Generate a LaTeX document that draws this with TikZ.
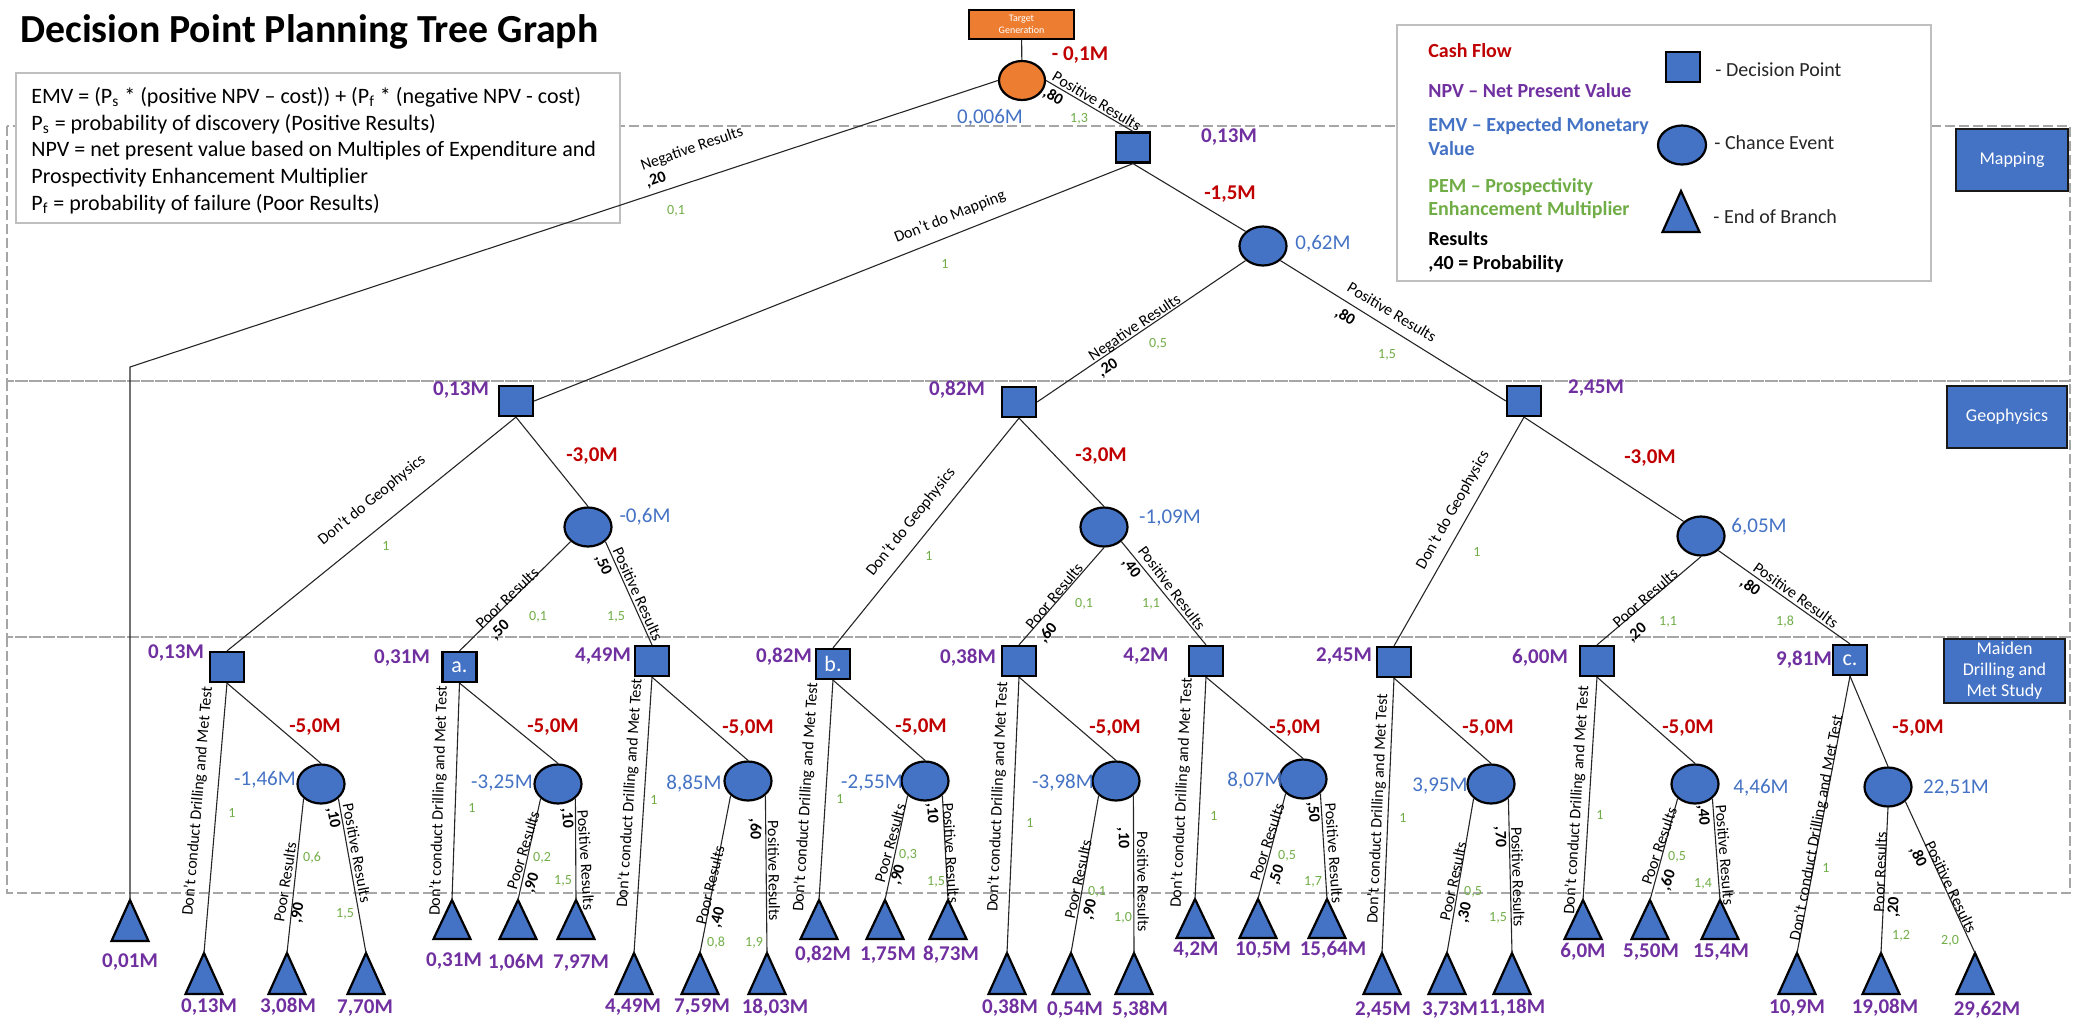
\documentclass[tikz,border=0pt]{standalone}
\usepackage{fontspec}
\setmainfont{Carlito}
\usetikzlibrary{shapes.geometric}

\definecolor{nodeblue}{HTML}{4472C4}
\definecolor{rootorange}{HTML}{ED7D31}
\definecolor{cashred}{HTML}{C00000}
\definecolor{npvpurple}{HTML}{7030A0}
\definecolor{pemgreen}{HTML}{70AD47}
\definecolor{framegray}{HTML}{BFBFBF}
\definecolor{bandgray}{HTML}{A6A6A6}

\tikzset{
  dpoint/.style={draw=black, line width=1.1pt, fill=nodeblue, minimum width=17pt, minimum height=15pt,
    inner sep=0pt, text=white, font=\fontsize{11}{12}\selectfont},
  chance/.style={ellipse, draw=black, line width=1.1pt, fill=nodeblue, minimum width=23.5pt,
    minimum height=19.5pt, inner sep=0pt},
  endbr/.style={draw=black, line width=1.1pt, fill=nodeblue, line join=miter},
  edge/.style={line width=0.55pt, draw=black!85},
  npv/.style={text=npvpurple, font=\fontsize{10.5}{12}\selectfont\bfseries, inner sep=0pt},
  emv/.style={text=nodeblue, font=\fontsize{10.5}{12}\selectfont, inner sep=0pt},
  cash/.style={text=cashred, font=\fontsize{10.5}{12}\selectfont\bfseries, inner sep=0pt},
  pem/.style={text=pemgreen, font=\fontsize{7}{8}\selectfont, inner sep=0pt},
  blab/.style={font=\fontsize{8}{9}\selectfont, inner sep=0pt},
  prob/.style={font=\fontsize{8}{9}\selectfont\bfseries, inner sep=0pt},
  stage/.style={draw=black!90, line width=1.1pt, fill=nodeblue, text=white,
    font=\fontsize{9}{10.5}\selectfont, align=center, inner sep=0pt},
  band/.style={draw=bandgray, line width=1pt, dash pattern=on 5pt off 2pt},
  infobox/.style={draw=framegray, line width=1pt, fill=white, inner sep=0pt},
  ftext/.style={font=\fontsize{11}{13}\selectfont, anchor=base west, inner sep=0pt},
  ltext/.style={font=\fontsize{10}{12}\selectfont\bfseries, anchor=base west, inner sep=0pt},
  rtext/.style={font=\fontsize{10}{12}\selectfont, text=black!85, anchor=base west, inner sep=0pt},
}

% end-of-branch triangle: name, apex x, apex y, height
\newcommand{\EndBranch}[4]{%
  \coordinate (#1) at (#2,#3);
  \draw[endbr] (#1) -- ++(-18.5,#4) -- ++(37,0) -- cycle;}
% text label: style, name, x, y, rotation, text
\newcommand{\Lbl}[6]{\node[#1, rotate=#5] (#2) at (#3,#4) {#6};}

\begin{document}
\begin{tikzpicture}[x=0.5pt, y=-0.5pt]
\useasboundingbox (0,0) rectangle (2078,1025);

% stage bands
\draw[band] (7,126) rectangle (2070,381);
\draw[band] (7,381) rectangle (2070,637);
\draw[band] (7,637) rectangle (2070,893);

% title
\node[anchor=base west, inner sep=0pt, font=\fontsize{19.9}{24}\selectfont\bfseries] (title) at (20,42)
  {Decision Point Planning Tree Graph};

% formula box
\node[infobox, minimum width=302.2pt, minimum height=75pt] (formula) at (317.8,148) {};
\node[ftext] (f1) at (31,103) {EMV = (P\textsubscript{s} * (positive NPV – cost)) + (P\textsubscript{f} * (negative NPV - cost)};
\node[ftext] (f2) at (31,130) {P\textsubscript{s} = probability of discovery (Positive Results)};
\node[ftext] (f3) at (31,156) {NPV = net present value based on Multiples of Expenditure and};
\node[ftext] (f4) at (31,183) {Prospectivity Enhancement Multiplier};
\node[ftext] (f5) at (31,210) {P\textsubscript{f} = probability of failure (Poor Results)};

% legend
\node[infobox, minimum width=267pt, minimum height=128pt] (legend) at (1664,153) {};
\node[ltext, text=cashred] (lgcash) at (1428,57) {Cash Flow};
\node[ltext, text=npvpurple] (lgnpv) at (1428,97) {NPV – Net Present Value};
\node[ltext, text=nodeblue] (lgemva) at (1428,131) {EMV – Expected Monetary};
\node[ltext, text=nodeblue] (lgemvb) at (1428,155) {Value};
\node[ltext, text=pemgreen] (lgpema) at (1428,192) {PEM – Prospectivity};
\node[ltext, text=pemgreen] (lgpemb) at (1428,215) {Enhancement Multiplier};
\node[ltext] (lgresa) at (1428,245) {Results};
\node[ltext] (lgresb) at (1428,269) {,40 = Probability};
\node[dpoint] (lgsq) at (1683,67) {};
\node[chance, minimum width=24pt] (lgci) at (1682,145) {};
\EndBranch{lgtri}{1681}{191}{41}
\node[rtext] (lgdp) at (1715,76) {- Decision Point};
\node[rtext] (lgce) at (1714,149) {- Chance Event};
\node[rtext] (lgeb) at (1713,223) {- End of Branch};

% stage boxes
\node[stage, minimum width=56pt, minimum height=31pt] (stmap) at (2012,160) {Mapping};
\node[stage, minimum width=60pt, minimum height=31pt] (stgeo) at (2007,417) {Geophysics};
\node[stage, minimum width=60.5pt, minimum height=32pt] (stmds) at (2004.5,671) {Maiden\\Drilling and\\Met Study};

% tree nodes
\node[draw=black, line width=0.8pt, fill=rootorange, minimum width=52.5pt, minimum height=14.5pt,
  inner sep=0pt, text=white, align=center, font=\fontsize{5}{6}\selectfont] (tg) at (1021.5,24.5) {Target\\Generation};
\node[chance, fill=rootorange, minimum width=23pt, minimum height=19.5pt] (root) at (1022,80.5) {};
\node[dpoint] (map) at (1133,147.5) {};
\node[chance] (c0) at (1263,246) {};
\node[dpoint] (g1) at (516,401) {};
\node[dpoint] (g2) at (1019,402) {};
\node[dpoint] (g3) at (1524,401) {};
\node[chance] (c1) at (588,527) {};
\node[chance] (c2) at (1104,527) {};
\node[chance] (c3) at (1701,536) {};
\node[dpoint] (d1) at (227,667) {};
\node[dpoint] (d2) at (459.5,667) {a.};
\node[dpoint] (d3) at (652,661) {};
\node[dpoint] (d4) at (833,664) {b.};
\node[dpoint] (d5) at (1019,661) {};
\node[dpoint] (d6) at (1206,661) {};
\node[dpoint] (d7) at (1394,662) {};
\node[dpoint] (d8) at (1597,661) {};
\node[dpoint] (d9) at (1850,660) {c.};
\node[chance] (e1) at (321,784) {};
\node[chance] (e2) at (558,784) {};
\node[chance] (e3) at (748,781) {};
\node[chance] (e4) at (925,781) {};
\node[chance] (e5) at (1116,781) {};
\node[chance] (e6) at (1303,779) {};
\node[chance] (e7) at (1491,784) {};
\node[chance] (e8) at (1695,784) {};
\node[chance] (e9) at (1888,787) {};

% end of branch triangles
\EndBranch{t0}{130}{900}{41}
\EndBranch{td1}{204}{953}{41}  \EndBranch{tp1}{287}{953}{41}  \EndBranch{tq1}{366}{953}{41}
\EndBranch{td2}{452}{900}{39}  \EndBranch{tp2}{518}{900}{39}  \EndBranch{tq2}{576}{900}{39}
\EndBranch{td3}{634}{953}{41}  \EndBranch{tp3}{700}{953}{41}  \EndBranch{tq3}{767}{953}{41}
\EndBranch{td4}{819}{900}{39}  \EndBranch{tp4}{885}{900}{39}  \EndBranch{tq4}{948}{900}{39}
\EndBranch{td5}{1007}{953}{41} \EndBranch{tp5}{1071}{953}{41} \EndBranch{tq5}{1134}{953}{41}
\EndBranch{td6}{1195}{899}{39} \EndBranch{tp6}{1258}{899}{39} \EndBranch{tq6}{1327}{899}{39}
\EndBranch{td7}{1382}{953}{41} \EndBranch{tp7}{1447}{953}{41} \EndBranch{tq7}{1512}{953}{41}
\EndBranch{td8}{1583}{900}{39} \EndBranch{tp8}{1650}{900}{39} \EndBranch{tq8}{1720}{900}{39}
\EndBranch{td9}{1797}{953}{41} \EndBranch{tp9}{1881}{953}{41} \EndBranch{tq9}{1975}{953}{41}

% connectors
\coordinate (bend) at (130,367);
\draw[edge] (tg) -- (root);
\draw[edge] (root.west) -- (bend) -- (t0);
\draw[edge] (root.east) -- (map.north);
\draw[edge] (map.south) -- (g1.east);
\draw[edge] (map.south) -- (c0.north west);
\draw[edge] (c0.south west) -- (g2.east);
\draw[edge] (c0.south east) -- (g3.west);
\draw[edge] (g1.south) -- (d1.north);
\draw[edge] (g1.south) -- (c1.north);
\draw[edge] (c1.south west) -- (d2.north);
\draw[edge] (c1.south east) -- (d3.north);
\draw[edge] (g2.south) -- (d4.north);
\draw[edge] (g2.south) -- (c2.north);
\draw[edge] (c2.south) -- (d5.north);
\draw[edge] (c2.south east) -- (d6.north);
\draw[edge] (g3.south) -- (d7.north);
\draw[edge] (g3.south) -- (c3.north west);
\draw[edge] (c3.south) -- (d8.north);
\draw[edge] (c3.south east) -- (d9.north);
\foreach \i in {1,...,9}{
  \draw[edge] (d\i.south) -- (td\i);
  \draw[edge] (d\i.south) -- (e\i.north);
  \draw[edge] (e\i.south east) -- (tq\i);
}
\foreach \i in {1,...,8}{ \draw[edge] (e\i.south west) -- (tp\i); }
\draw[edge] (e9.south) -- (tp9);

% labels: top of the tree
\Lbl{cash}{cr}{1080}{55}{0}{- 0,1M}
\Lbl{emv}{er}{990}{118}{0}{0,006M}
\Lbl{pem}{pr}{1079}{119}{0}{1,3}
\Lbl{blab}{bRpos}{1097}{101}{-31}{Positive Results}
\Lbl{prob}{qRpos}{1053}{97}{-31}{,80}
\Lbl{blab}{bRneg}{692}{149}{19}{Negative Results}
\Lbl{prob}{qRneg}{656}{180}{19}{,20}
\Lbl{pem}{pRneg}{676}{211}{0}{0,1}

% labels: mapping
\Lbl{npv}{nmap}{1229}{137}{0}{0,13M}
\Lbl{cash}{cmap}{1230}{194}{0}{-1,5M}
\Lbl{emv}{ec0}{1323}{244}{0}{0,62M}
\Lbl{blab}{bMap}{950}{217}{21.7}{Don’t do Mapping}
\Lbl{pem}{pMap}{945}{264}{0}{1}
\Lbl{blab}{bCneg}{1135}{328}{33.8}{Negative Results}
\Lbl{prob}{qCneg}{1108}{368}{33.8}{,20}
\Lbl{pem}{pCneg}{1158}{344}{0}{0,5}
\Lbl{blab}{bCpos}{1392}{312}{-31}{Positive Results}
\Lbl{prob}{qCpos}{1345}{317}{-31}{,80}
\Lbl{pem}{pCpos}{1387}{355}{0}{1,5}

% labels: geophysics
\Lbl{npv}{ng1}{461}{390}{0}{0,13M}
\Lbl{npv}{ng2}{957}{390}{0}{0,82M}
\Lbl{npv}{ng3}{1596}{388}{0}{2,45M}
\Lbl{cash}{cg1}{592}{456}{0}{-3,0M}
\Lbl{cash}{cg2}{1101}{456}{0}{-3,0M}
\Lbl{cash}{cg3}{1650}{458}{0}{-3,0M}
\Lbl{emv}{ec1}{645}{517}{0}{-0,6M}
\Lbl{emv}{ec2}{1170}{518}{0}{-1,09M}
\Lbl{emv}{ec3}{1759}{527}{0}{6,05M}
\Lbl{blab}{bGa}{372}{500}{39.2}{Don’t do Geophysics}
\Lbl{pem}{pGa}{386}{546}{0}{1}
\Lbl{blab}{bGb}{911}{522}{51.6}{Don’t do Geophysics}
\Lbl{pem}{pGb}{929}{556}{0}{1}
\Lbl{blab}{bGc}{1453}{510}{60.7}{Don’t do Geophysics}
\Lbl{pem}{pGc}{1477}{552}{0}{1}
\Lbl{blab}{bCap}{507}{598}{43.7}{Poor Results}
\Lbl{prob}{qCap}{500}{630}{43.7}{,50}
\Lbl{pem}{pCap}{538}{617}{0}{0,1}
\Lbl{blab}{bCaq}{638}{594}{-65.7}{Positive Results}
\Lbl{prob}{qCaq}{603}{565}{-65.7}{,50}
\Lbl{pem}{pCaq}{616}{617}{0}{1,5}
\Lbl{blab}{bCbp}{1054}{596}{50.3}{Poor Results}
\Lbl{prob}{qCbp}{1048}{633}{50.3}{,60}
\Lbl{pem}{pCbp}{1084}{604}{0}{0,1}
\Lbl{blab}{bCbq}{1172}{588}{-52.9}{Positive Results}
\Lbl{prob}{qCbq}{1131}{568}{-52.9}{,40}
\Lbl{pem}{pCbq}{1151}{604}{0}{1,1}
\Lbl{blab}{bCcp}{1645}{598}{40.9}{Poor Results}
\Lbl{prob}{qCcp}{1637}{633}{40.9}{,20}
\Lbl{pem}{pCcp}{1668}{622}{0}{1,1}
\Lbl{blab}{bCcq}{1796}{595}{-35.9}{Positive Results}
\Lbl{prob}{qCcq}{1750}{587}{-35.9}{,80}
\Lbl{pem}{pCcq}{1785}{622}{0}{1,8}

% labels: drilling decision points
\Lbl{npv}{nd1}{176}{653}{0}{0,13M}
\Lbl{npv}{nd2}{402}{658}{0}{0,31M}
\Lbl{npv}{nd3}{603}{656}{0}{4,49M}
\Lbl{npv}{nd4}{784}{657}{0}{0,82M}
\Lbl{npv}{nd5}{968}{658}{0}{0,38M}
\Lbl{npv}{nd6}{1146}{656}{0}{4,2M}
\Lbl{npv}{nd7}{1344}{656}{0}{2,45M}
\Lbl{npv}{nd8}{1540}{658}{0}{6,00M}
\Lbl{npv}{nd9}{1804}{660}{0}{9,81M}
\Lbl{cash}{ce1}{315}{727}{0}{-5,0M}
\Lbl{cash}{ce2}{553}{727}{0}{-5,0M}
\Lbl{cash}{ce3}{748}{728}{0}{-5,0M}
\Lbl{cash}{ce4}{921}{727}{0}{-5,0M}
\Lbl{cash}{ce5}{1115}{728}{0}{-5,0M}
\Lbl{cash}{ce6}{1295}{728}{0}{-5,0M}
\Lbl{cash}{ce7}{1488}{728}{0}{-5,0M}
\Lbl{cash}{ce8}{1688}{728}{0}{-5,0M}
\Lbl{cash}{ce9}{1918}{728}{0}{-5,0M}
\Lbl{emv}{ee1}{265}{780}{0}{-1,46M}
\Lbl{emv}{ee2}{502}{783}{0}{-3,25M}
\Lbl{emv}{ee3}{694}{784}{0}{8,85M}
\Lbl{emv}{ee4}{872}{783}{0}{-2,55M}
\Lbl{emv}{ee5}{1063}{783}{0}{-3,98M}
\Lbl{emv}{ee6}{1255}{781}{0}{8,07M}
\Lbl{emv}{ee7}{1440}{786}{0}{3,95M}
\Lbl{emv}{ee8}{1761}{788}{0}{4,46M}
\Lbl{emv}{ee9}{1956}{788}{0}{22,51M}

% labels: no drilling branches
\Lbl{blab}{bd1}{198}{801}{85.1}{Don’t conduct Drilling and Met Test}
\Lbl{blab}{bd2}{439}{801}{88.2}{Don’t conduct Drilling and Met Test}
\Lbl{blab}{bd3}{630}{793}{86.3}{Don’t conduct Drilling and Met Test}
\Lbl{blab}{bd4}{806}{797}{86.4}{Don’t conduct Drilling and Met Test}
\Lbl{blab}{bd5}{998}{797}{87.5}{Don’t conduct Drilling and Met Test}
\Lbl{blab}{bd6}{1182}{793}{87.2}{Don’t conduct Drilling and Met Test}
\Lbl{blab}{bd7}{1378}{809}{87.5}{Don’t conduct Drilling and Met Test}
\Lbl{blab}{bd8}{1577}{800}{86.4}{Don’t conduct Drilling and Met Test}
\Lbl{blab}{bd9}{1817}{828}{79.2}{Don’t conduct Drilling and Met Test}
\Lbl{pem}{pd1}{232}{813}{0}{1}
\Lbl{pem}{pd2}{472}{808}{0}{1}
\Lbl{pem}{pd3}{654}{800}{0}{1}
\Lbl{pem}{pd4}{840}{799}{0}{1}
\Lbl{pem}{pd5}{1030}{823}{0}{1}
\Lbl{pem}{pd6}{1214}{816}{0}{1}
\Lbl{pem}{pd7}{1403}{818}{0}{1}
\Lbl{pem}{pd8}{1600}{815}{0}{1}
\Lbl{pem}{pd9}{1826}{868}{0}{1}

% labels: drilling outcomes
\Lbl{blab}{bp1}{285}{882}{81}{Poor Results}
\Lbl{prob}{qp1}{298}{913}{81}{,90}
\Lbl{pem}{pp1}{312}{858}{0}{0,6}
\Lbl{blab}{bq1}{357}{853}{-79.6}{Positive Results}
\Lbl{prob}{qq1}{333}{818}{-79.6}{,10}
\Lbl{pem}{pq1}{345}{914}{0}{1,5}

\Lbl{blab}{bp2}{523}{850}{73}{Poor Results}
\Lbl{prob}{qp2}{532}{883}{73}{,90}
\Lbl{pem}{pp2}{542}{858}{0}{0,2}
\Lbl{blab}{bq2}{586}{860}{-86.5}{Positive Results}
\Lbl{prob}{qq2}{567}{818}{-86.5}{,10}
\Lbl{pem}{pq2}{563}{881}{0}{1,5}

\Lbl{blab}{bp3}{710}{885}{76.4}{Poor Results}
\Lbl{prob}{qp3}{718}{918}{76.4}{,40}
\Lbl{pem}{pp3}{716}{943}{0}{0,8}
\Lbl{blab}{bq3}{774}{871}{-89.3}{Positive Results}
\Lbl{prob}{qq3}{755}{829}{-89.3}{,60}
\Lbl{pem}{pq3}{754}{943}{0}{1,9}

\Lbl{blab}{bp4}{890}{843}{74.4}{Poor Results}
\Lbl{prob}{qp4}{898}{875}{74.4}{,90}
\Lbl{pem}{pp4}{908}{855}{0}{0,3}
\Lbl{blab}{bq4}{951}{853}{-86.6}{Positive Results}
\Lbl{prob}{qq4}{932}{813}{-86.6}{,10}
\Lbl{pem}{pq4}{936}{882}{0}{1,5}

\Lbl{blab}{bp5}{1078}{879}{77.5}{Poor Results}
\Lbl{prob}{qp5}{1090}{910}{77.5}{,90}
\Lbl{pem}{pp5}{1097}{892}{0}{0,1}
\Lbl{blab}{bq5}{1143}{882}{-89.6}{Positive Results}
\Lbl{prob}{qq5}{1123}{838}{-89.6}{,10}
\Lbl{pem}{pq5}{1123}{918}{0}{1,0}

\Lbl{blab}{bp6}{1267}{842}{71.7}{Poor Results}
\Lbl{prob}{qp6}{1277}{875}{71.7}{,50}
\Lbl{pem}{pp6}{1287}{856}{0}{0,5}
\Lbl{blab}{bq6}{1334}{853}{-86.1}{Positive Results}
\Lbl{prob}{qq6}{1313}{812}{-86.1}{,50}
\Lbl{pem}{pq6}{1313}{882}{0}{1,7}

\Lbl{blab}{bp7}{1453}{881}{77.7}{Poor Results}
\Lbl{prob}{qp7}{1465}{913}{77.7}{,30}
\Lbl{pem}{pp7}{1473}{892}{0}{0,5}
\Lbl{blab}{bq7}{1518}{877}{-88.5}{Positive Results}
\Lbl{prob}{qq7}{1500}{837}{-88.5}{,70}
\Lbl{pem}{pq7}{1498}{918}{0}{1,5}

\Lbl{blab}{bp8}{1659}{846}{70.9}{Poor Results}
\Lbl{prob}{qp8}{1668}{880}{70.9}{,60}
\Lbl{pem}{pp8}{1677}{857}{0}{0,5}
\Lbl{blab}{bq8}{1725}{855}{-85.4}{Positive Results}
\Lbl{prob}{qq8}{1703}{815}{-85.4}{,40}
\Lbl{pem}{pq8}{1703}{884}{0}{1,4}

\Lbl{blab}{bp9}{1880}{872}{88}{Poor Results}
\Lbl{prob}{qp9}{1894}{907}{88}{,20}
\Lbl{pem}{pp9}{1901}{936}{0}{1,2}
\Lbl{blab}{bq9}{1951}{887}{-64.5}{Positive Results}
\Lbl{prob}{qq9}{1918}{857}{-64.5}{,80}
\Lbl{pem}{pq9}{1950}{941}{0}{2,0}

% labels: end values
\Lbl{npv}{v0}{130}{962}{0}{0,01M}
\Lbl{npv}{vd1}{209}{1007}{0}{0,13M}
\Lbl{npv}{vp1}{288}{1007}{0}{3,08M}
\Lbl{npv}{vq1}{365}{1008}{0}{7,70M}
\Lbl{npv}{vd2}{454}{961}{0}{0,31M}
\Lbl{npv}{vp2}{516}{963}{0}{1,06M}
\Lbl{npv}{vq2}{581}{963}{0}{7,97M}
\Lbl{npv}{vd3}{633}{1007}{0}{4,49M}
\Lbl{npv}{vp3}{702}{1007}{0}{7,59M}
\Lbl{npv}{vq3}{775}{1008}{0}{18,03M}
\Lbl{npv}{vd4}{823}{955}{0}{0,82M}
\Lbl{npv}{vp4}{888}{955}{0}{1,75M}
\Lbl{npv}{vq4}{951}{955}{0}{8,73M}
\Lbl{npv}{vd5}{1010}{1008}{0}{0,38M}
\Lbl{npv}{vp5}{1075}{1010}{0}{0,54M}
\Lbl{npv}{vq5}{1140}{1010}{0}{5,38M}
\Lbl{npv}{vd6}{1196}{950}{0}{4,2M}
\Lbl{npv}{vp6}{1263}{950}{0}{10,5M}
\Lbl{npv}{vq6}{1333}{950}{0}{15,64M}
\Lbl{npv}{vd7}{1383}{1010}{0}{2,45M}
\Lbl{npv}{vp7}{1450}{1010}{0}{3,73M}
\Lbl{npv}{vq7}{1512}{1008}{0}{11,18M}
\Lbl{npv}{vd8}{1583}{952}{0}{6,0M}
\Lbl{npv}{vp8}{1651}{952}{0}{5,50M}
\Lbl{npv}{vq8}{1721}{952}{0}{15,4M}
\Lbl{npv}{vd9}{1797}{1008}{0}{10,9M}
\Lbl{npv}{vp9}{1885}{1008}{0}{19,08M}
\Lbl{npv}{vq9}{1987}{1010}{0}{29,62M}

\end{tikzpicture}
\end{document}
